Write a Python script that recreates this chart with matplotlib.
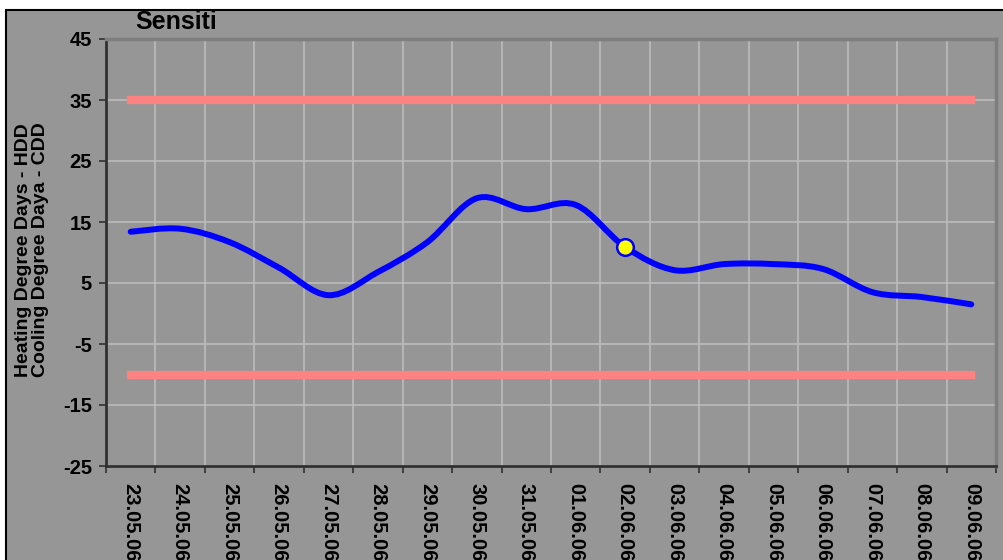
import matplotlib
matplotlib.use("Agg")
import matplotlib.pyplot as plt
import numpy as np
from matplotlib.path import Path
from matplotlib.patches import PathPatch, Rectangle

# data
dates = ["23.05.06", "24.05.06", "25.05.06", "26.05.06", "27.05.06", "28.05.06",
         "29.05.06", "30.05.06", "31.05.06", "01.06.06", "02.06.06", "03.06.06",
         "04.06.06", "05.06.06", "06.06.06", "07.06.06", "08.06.06", "09.06.06"]
degree_days = [13.4, 13.9, 11.7, 7.5, 3.0, 6.8, 11.7, 18.9, 17.1, 17.8,
               10.9, 7.1, 8.1, 8.1, 7.3, 3.5, 2.7, 1.5]
upper_limit = 35
lower_limit = -10
marker_index = 10
yticks = [-25, -15, -5, 5, 15, 25, 35, 45]

plt.rcParams["font.family"] = ["Liberation Sans", "DejaVu Sans"]
plt.rcParams["font.weight"] = "bold"
plt.rcParams["axes.unicode_minus"] = False

grey = "#969696"
fig = plt.figure(figsize=(10.04, 5.6), dpi=100, facecolor="white")
fig.patches.append(Rectangle((6 / 1004, -0.1), 1.1, (550 / 560) + 0.1,
                             transform=fig.transFigure, facecolor=grey,
                             edgecolor="black", linewidth=1.5, zorder=-10))

ax = fig.add_axes([106 / 1004, 94 / 560, 890 / 1004, 427 / 560])
ax.set_facecolor(grey)

x = np.arange(len(dates))
ax.set_xlim(-0.5, len(dates) - 0.5)
ax.set_ylim(-25, 45)

# limit bands
ax.plot([x[0], x[-1]], [upper_limit, upper_limit], color="#ff8282", lw=6,
        solid_capstyle="projecting", zorder=3)
ax.plot([x[0], x[-1]], [lower_limit, lower_limit], color="#ff8282", lw=6,
        solid_capstyle="projecting", zorder=3)

# smoothed line (bezier through the points, like excel)
y = np.array(degree_days)
pts = np.column_stack([x, y])
verts = [pts[0]]
codes = [Path.MOVETO]
n = len(pts)
for i in range(n - 1):
    p0 = pts[max(i - 1, 0)]
    p1 = pts[i]
    p2 = pts[i + 1]
    p3 = pts[min(i + 2, n - 1)]
    c1 = p1 + (p2 - p0) / 6.0
    c2 = p2 - (p3 - p1) / 6.0
    verts += [c1, c2, p2]
    codes += [Path.CURVE4] * 3
ax.add_patch(PathPatch(Path(verts, codes), fill=False, edgecolor="#0000ff",
                       lw=4.3, capstyle="round", zorder=4))

ax.plot(x[marker_index], y[marker_index], "o", ms=12, mfc="#ffff00",
        mec="#0000ff", mew=1.8, zorder=5)

# axes styling
ax.set_yticks(yticks)
ax.set_xticks(np.arange(-0.5, len(dates), 1.0))
ax.set_xticklabels([])
ax.set_xticks(x, minor=True)
ax.set_xticklabels(dates, minor=True, rotation=270, fontsize=14.5,
                   fontweight="bold", va="top", ha="center")
ax.tick_params(axis="x", which="minor", length=0, pad=12)
ax.tick_params(axis="x", which="major", length=5, width=1.2, color="#303030")
ax.tick_params(axis="y", length=5, width=1.2, color="#303030", labelsize=14.5,
               pad=5)
for lab in ax.get_yticklabels():
    lab.set_fontweight("bold")

ax.grid(True, which="major", color="#bcbcbc", lw=1.2, zorder=1)
ax.set_axisbelow(True)

ax.spines["left"].set_color("#303030")
ax.spines["bottom"].set_color("#303030")
ax.spines["left"].set_linewidth(2)
ax.spines["bottom"].set_linewidth(2)
ax.spines["top"].set_color("#7e7e7e")
ax.spines["right"].set_color("#7e7e7e")
ax.spines["top"].set_linewidth(2.5)
ax.spines["right"].set_linewidth(2.5)

fig.text(135 / 1004, 1 - 22 / 560, "Sensiti", fontsize=18, fontweight="bold",
         ha="left", va="center")
fig.text(32 / 1004, 1 - 250 / 560,
         "Heating Degree Days - HDD\nCooling Degree Daya - CDD",
         rotation=90, fontsize=14, fontweight="bold", ha="center",
         va="center", linespacing=1.05)

fig.savefig("out.png", dpi=100, facecolor="white")
